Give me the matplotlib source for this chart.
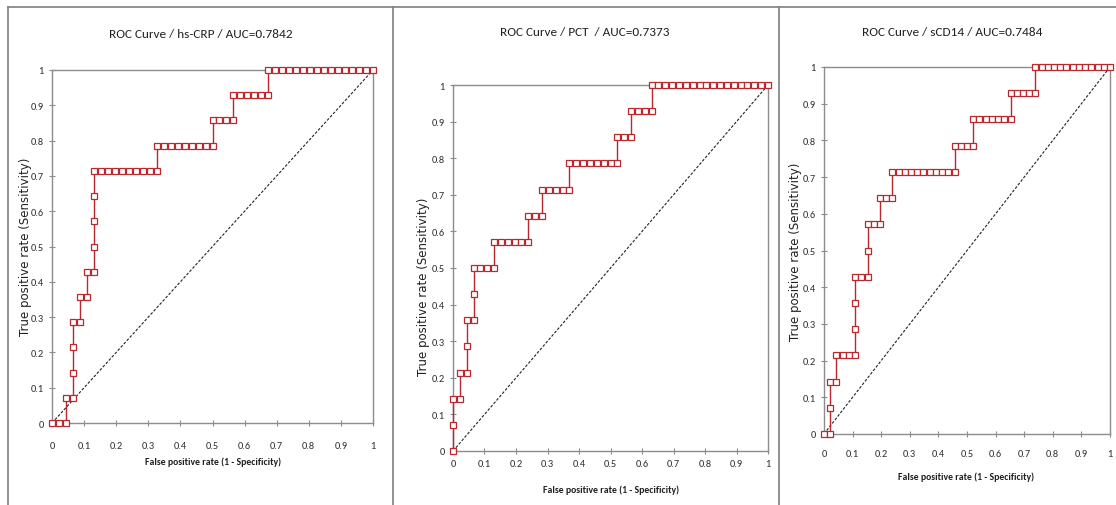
import matplotlib
matplotlib.use("Agg")
import matplotlib.pyplot as plt
from matplotlib import font_manager as fm
from matplotlib.lines import Line2D

# ---------------- data (counts of negatives / positives above threshold) ----------------
N_NEG = 46
N_POS = 14

crp_points = [(0, 0), (1, 0), (2, 0), (2, 1), (3, 1), (3, 2), (3, 3), (3, 4), (4, 4), (4, 5), (5, 5), (5, 6),
              (6, 6), (6, 7), (6, 8), (6, 9), (6, 10),
              (7, 10), (8, 10), (9, 10), (10, 10), (11, 10), (12, 10), (13, 10), (14, 10), (15, 10),
              (15, 11), (16, 11), (17, 11), (18, 11), (19, 11), (20, 11), (21, 11), (22, 11), (23, 11),
              (23, 12), (24, 12), (25, 12), (26, 12),
              (26, 13), (27, 13), (28, 13), (29, 13), (30, 13), (31, 13),
              (31, 14), (32, 14), (33, 14), (34, 14), (35, 14), (36, 14), (37, 14), (38, 14), (39, 14),
              (40, 14), (41, 14), (42, 14), (43, 14), (44, 14), (45, 14), (46, 14)]

pct_points = [(0, 0), (0, 1), (0, 2), (1, 2), (1, 3), (2, 3), (2, 4), (2, 5), (3, 5), (3, 6), (3, 7),
              (4, 7), (5, 7), (6, 7),
              (6, 8), (7, 8), (8, 8), (9, 8), (10, 8), (11, 8),
              (11, 9), (12, 9), (13, 9),
              (13, 10), (14, 10), (15, 10), (16, 10), (17, 10),
              (17, 11), (18, 11), (19, 11), (20, 11), (21, 11), (22, 11), (23, 11), (24, 11),
              (24, 12), (25, 12), (26, 12),
              (26, 13), (27, 13), (28, 13), (29, 13),
              (29, 14), (30, 14), (31, 14), (32, 14), (33, 14), (34, 14), (35, 14), (36, 14), (37, 14),
              (38, 14), (39, 14), (40, 14), (41, 14), (42, 14), (43, 14), (44, 14), (45, 14), (46, 14)]

scd14_points = [(0, 0), (1, 0), (1, 1), (1, 2), (2, 2), (2, 3), (3, 3), (4, 3), (5, 3), (5, 4), (5, 5), (5, 6),
                (6, 6), (7, 6), (7, 7), (7, 8), (8, 8), (9, 8), (9, 9), (10, 9), (11, 9),
                (11, 10), (12, 10), (13, 10), (14, 10), (15, 10), (16, 10), (17, 10), (18, 10), (19, 10),
                (20, 10), (21, 10),
                (21, 11), (22, 11), (23, 11), (24, 11),
                (24, 12), (25, 12), (26, 12), (27, 12), (28, 12), (29, 12), (30, 12),
                (30, 13), (31, 13), (32, 13), (33, 13), (34, 13),
                (34, 14), (35, 14), (36, 14), (37, 14), (38, 14), (39, 14), (40, 14), (41, 14), (42, 14),
                (43, 14), (44, 14), (45, 14), (46, 14)]

titles = ["ROC Curve / hs-CRP / AUC=0.7842",
          "ROC Curve / PCT  / AUC=0.7373",
          "ROC Curve / sCD14 / AUC=0.7484"]
tick_values = [0, 0.1, 0.2, 0.3, 0.4, 0.5, 0.6, 0.7, 0.8, 0.9, 1]
tick_labels = ["0", "0.1", "0.2", "0.3", "0.4", "0.5", "0.6", "0.7", "0.8", "0.9", "1"]
xlabel = "False positive rate (1 - Specificity)"
ylabel = "True positive rate (Sensitivity)"

# ---------------- fonts ----------------
names = {f.name for f in fm.fontManager.ttflist}
narrow = next((n for n in ["Carlito", "Liberation Sans Narrow", "Roboto Condensed",
                           "Open Sans Condensed", "Arial Narrow", "Liberation Sans"] if n in names),
              "DejaVu Sans")

W, H = 1116, 506
fig = plt.figure(figsize=(W / 100, H / 100), dpi=100)
fig.patch.set_facecolor("white")


def fx(px):
    return px / W


def fy(py):
    return 1 - py / H


# panel frames
frame_col = "#7f7f7f"
fig.add_artist(Line2D([fx(8), 1], [fy(8), fy(8)], color=frame_col, lw=1.2))
for xp in (8, 393, 779):
    fig.add_artist(Line2D([fx(xp), fx(xp)], [fy(8), 0], color=frame_col, lw=1.2))

# axes placement in pixels: left, right, top(y=1), bottom(y=0)
boxes = [(52, 373, 71, 424), (453, 768, 86, 452), (824, 1110, 68, 435)]
title_pos = [(201, 35), (585, 33), (952, 33)]
xlabel_pos = [(213, 462), (611, 490), (966, 477)]
ylabel_pos = [(26, 247), (424, 287), (796, 252)]
xpads = [10.5, 3.5, 8.0]
series = [crp_points, pct_points, scd14_points]

red = "#b8282c"
spine_col = "#8c8c8c"
txt_col = "#303030"

for i in range(3):
    l, r, t, b = boxes[i]
    ax = fig.add_axes([fx(l), fy(b), fx(r) - fx(l), fy(t) - fy(b)])
    ax.set_xlim(0, 1)
    ax.set_ylim(0, 1)
    pts = series[i]
    xs = [p[0] / N_NEG for p in pts]
    ys = [p[1] / N_POS for p in pts]
    ax.plot([0, 1], [0, 1], color="#222222", lw=0.8, ls=(0, (2.5, 1.5)), zorder=2)
    ax.plot(xs, ys, color=red, lw=1.0, marker="s", markersize=4.0,
            markerfacecolor="white", markeredgecolor=red, markeredgewidth=0.9,
            clip_on=False, zorder=3)
    for s in ax.spines.values():
        s.set_color(spine_col)
        s.set_linewidth(1.0)
    ax.set_xticks(tick_values)
    ax.set_yticks(tick_values)
    ax.set_xticklabels(tick_labels, fontfamily=narrow, fontsize=7.5, color=txt_col)
    ax.set_yticklabels(tick_labels, fontfamily=narrow, fontsize=7.5, color=txt_col)
    ax.tick_params(axis="both", direction="inout", length=5, width=0.8, color=spine_col)
    ax.tick_params(axis="x", pad=xpads[i])
    ax.tick_params(axis="y", pad=3.5)
    ax.tick_params(top=False, right=False)

    tx, ty = title_pos[i]
    fig.text(fx(tx), fy(ty), titles[i], ha="center", va="center",
             fontfamily=narrow, fontsize=9.5, color="#202020")
    lx, ly = xlabel_pos[i]
    fig.text(fx(lx), fy(ly), xlabel, ha="center", va="center",
             fontfamily=narrow, fontsize=7, fontweight="bold", color="#202020")
    yx, yy = ylabel_pos[i]
    fig.text(fx(yx), fy(yy), ylabel, ha="center", va="center", rotation=90,
             fontfamily="DejaVu Sans", fontsize=8.5, color="#202020")

fig.savefig("out.png", dpi=100, facecolor="white")
